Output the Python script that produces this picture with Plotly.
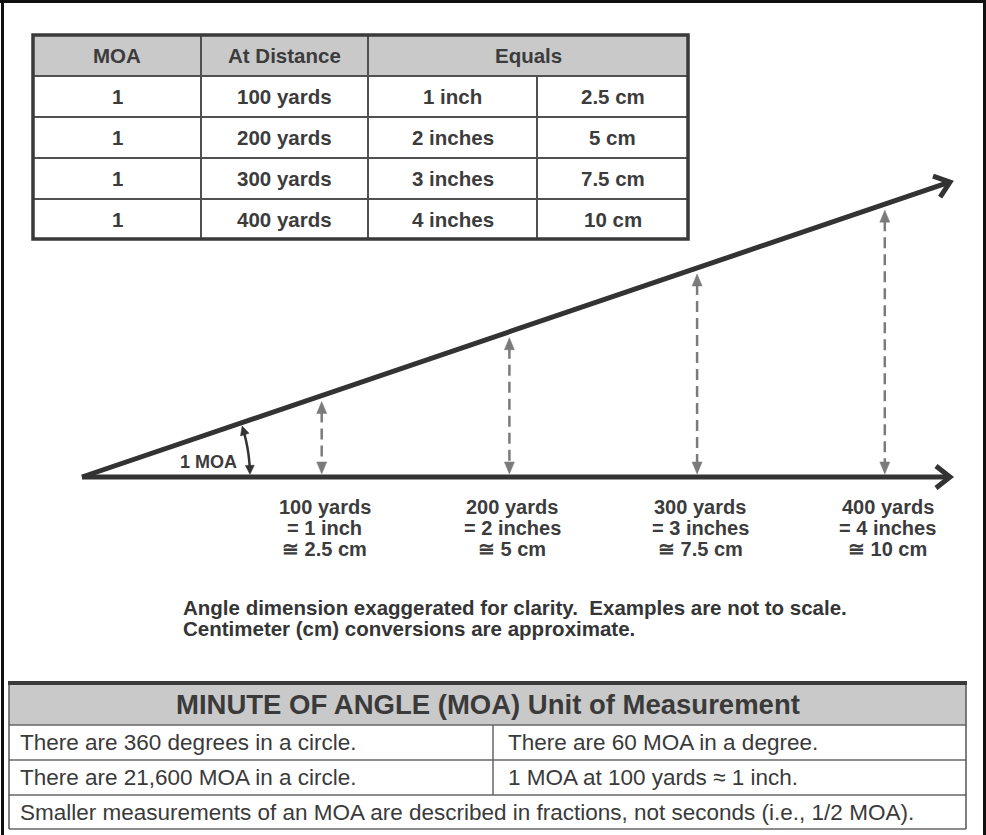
import math
import plotly.graph_objects as go

# ---------------- data ----------------
moa_values = [1, 1, 1, 1]
distance_yards = [100, 200, 300, 400]
equals_inches = [1, 2, 3, 4]
equals_cm = [2.5, 5, 7.5, 10]
table_headers = ["MOA", "At Distance", "Equals"]
angle_label = "1 MOA"
note_lines = [
    "Angle dimension exaggerated for clarity.\u00a0 Examples are not to scale.",
    "Centimeter (cm) conversions are approximate.",
]
facts_title = "MINUTE OF ANGLE (MOA) Unit of Measurement"
facts_rows = [
    ["There are 360 degrees in a circle.", "There are 60 MOA in a degree."],
    ["There are 21,600 MOA in a circle.", "1 MOA at 100 yards \u2248 1 inch."],
]
facts_footer = "Smaller measurements of an MOA are described in fractions, not seconds (i.e., 1/2 MOA)."


def fmt(v):
    return f"{v:g}"


def inch_label(n):
    return f"{n} inch" if n == 1 else f"{n} inches"


# ---------------- layout constants ----------------
W, H = 986, 835
FONT = "Liberation Sans, Arial, Helvetica, sans-serif"
DARK = "#333333"
TXT = "#3c3c3c"
HEAD = "#c9c9c9"
DASHC = "#7b7b7b"

shapes = []
annos = []


def line(x0, y0, x1, y1, color, width, dash=None):
    d = dict(type="line", xref="x", yref="y", x0=x0, y0=y0, x1=x1, y1=y1,
             line=dict(color=color, width=width))
    if dash:
        d["line"]["dash"] = dash
    shapes.append(d)


def rect(x0, y0, x1, y1, fill, color=None, width=0):
    shapes.append(dict(type="rect", xref="x", yref="y", x0=x0, y0=y0, x1=x1, y1=y1,
                       fillcolor=fill, line=dict(color=color or fill, width=width)))


def path(pts, color, width=0, fill=None, close=False):
    s = "M " + " L ".join(f"{x:.2f},{y:.2f}" for x, y in pts)
    if close:
        s += " Z"
    shapes.append(dict(type="path", xref="x", yref="y", path=s,
                       fillcolor=fill if fill else "rgba(0,0,0,0)",
                       line=dict(color=color, width=width)))


def text(x, y, t, size, bold=False, anchor="center", color=TXT):
    annos.append(dict(x=x, y=y, xref="x", yref="y", text=f"<b>{t}</b>" if bold else t,
                      showarrow=False, xanchor=anchor, yanchor="middle",
                      font=dict(family=FONT, size=size, color=color)))


def tri(tip, u, length, hw, color):
    ux, uy = u
    n = math.hypot(ux, uy)
    ux, uy = ux / n, uy / n
    bx, by = tip[0] - ux * length, tip[1] - uy * length
    px, py = -uy, ux
    path([tip, (bx + px * hw, by + py * hw), (bx - px * hw, by - py * hw)],
         color, 0.5, fill=color, close=True)


# ---------------- outer frame ----------------
line(0, 1.5, W, 1.5, "#111111", 3)
line(2.5, 0, 2.5, H, "#111111", 3)
line(984.5, 0, 984.5, H, "#111111", 3)

# ---------------- top table ----------------
TX = [33, 201, 368, 537, 688]
TY = [35, 76, 117, 158, 199, 239]
rect(TX[0], TY[0], TX[-1], TY[1], HEAD)
for y in TY[1:-1]:
    line(TX[0], y, TX[-1], y, "#505050", 2)
line(TX[1], TY[0], TX[1], TY[-1], "#505050", 2)
line(TX[2], TY[0], TX[2], TY[-1], "#505050", 2)
line(TX[3], TY[1], TX[3], TY[-1], "#505050", 2)
shapes.append(dict(type="rect", xref="x", yref="y", x0=TX[0], y0=TY[0], x1=TX[-1], y1=TY[-1],
                   line=dict(color="#3a3a3a", width=3.5), fillcolor="rgba(0,0,0,0)"))
hy = (TY[0] + TY[1]) / 2
TS = 20.5
text((TX[0] + TX[1]) / 2, hy, table_headers[0], TS, True)
text((TX[1] + TX[2]) / 2, hy, table_headers[1], TS, True)
text((TX[2] + TX[4]) / 2, hy, table_headers[2], TS, True)
for r in range(len(distance_yards)):
    cy = (TY[r + 1] + TY[r + 2]) / 2
    cells = [fmt(moa_values[r]), f"{distance_yards[r]} yards",
             inch_label(equals_inches[r]), f"{fmt(equals_cm[r])} cm"]
    for c, t in enumerate(cells):
        text((TX[c] + TX[c + 1]) / 2, cy, t, TS, True)

# ---------------- diagram ----------------
OX, OY = 82, 477
TIPX = 950
ANGLE = math.radians(18.77)  # exaggerated drawing angle
SL = math.tan(ANGLE)


def slant_y(x):
    return OY - SL * (x - OX)


DX0, DSCALE = 134.0, 1.877  # yards -> pixels (not to scale)


def x_of(yd):
    return DX0 + DSCALE * yd


# horizontal baseline + chevron
line(OX, OY, TIPX - 2, OY, DARK, 5)
path([(TIPX - 14, OY - 11), (TIPX, OY), (TIPX - 14, OY + 11)], DARK, 5)
# slanted line + chevron
sx, sy = TIPX, slant_y(TIPX)
line(OX, OY, sx - 2 * math.cos(ANGLE), sy + 2 * math.sin(ANGLE), DARK, 5)
bx, by = -math.cos(ANGLE), math.sin(ANGLE)
arms = []
for a in (math.radians(38), -math.radians(38)):
    rx = bx * math.cos(a) - by * math.sin(a)
    ry = bx * math.sin(a) + by * math.cos(a)
    arms.append((sx + 18 * rx, sy + 18 * ry))
path([arms[0], (sx, sy), arms[1]], DARK, 5)

# dashed double arrows
LS = 20
for i, yd in enumerate(distance_yards):
    x = x_of(yd)
    ytop = slant_y(x) + 6
    ybot = OY - 3
    line(x, ytop + 10, x, ybot - 10, DASHC, 2.5, dash="11px,6px")
    tri((x, ytop), (0, -1), 12, 5, DASHC)
    tri((x, ybot), (0, 1), 12, 5, DASHC)
    lx = x + 3
    text(lx, 507, f"{yd} yards", LS, True)
    text(lx, 528, f"= {inch_label(equals_inches[i])}", LS, True)
    text(lx, 549, f"\u2245 {fmt(equals_cm[i])} cm", LS, True)

# angle arc with arrowheads
R = 168
phi0 = math.radians(0.9)
phi1 = ANGLE - math.radians(1.1)
head = 9
dphi = head / R
pts = []
N = 30
for k in range(N + 1):
    p = (phi0 + dphi * 0.7) + (phi1 - dphi * 0.7 - phi0 - dphi * 0.7) * k / N
    pts.append((OX + R * math.cos(p), OY - R * math.sin(p)))
path(pts, DARK, 2.5)
tip_b = (OX + R * math.cos(phi0), OY - R * math.sin(phi0))
tri(tip_b, (math.sin(phi0), math.cos(phi0)), head, 4.5, DARK)
tip_t = (OX + R * math.cos(phi1), OY - R * math.sin(phi1))
tri(tip_t, (-math.sin(phi1), -math.cos(phi1)), head, 4.5, DARK)
text(208, 462, angle_label, 18, True)

# note text
text(181, 607, note_lines[0], 20.5, True, anchor="left", color="#353535")
text(181, 628, note_lines[1], 20.5, True, anchor="left", color="#353535")

# ---------------- bottom table ----------------
BX = [9, 493, 966]
BY = [683, 725, 760, 795, 829]
rect(BX[0], BY[0], BX[-1], BY[1], HEAD)
for y in BY[1:]:
    line(BX[0], y, BX[-1], y, "#666666", 1.5)
line(BX[0], BY[0], BX[0], BY[-1], "#555555", 1.5)
line(BX[-1], BY[0], BX[-1], BY[-1], "#555555", 1.5)
line(BX[1], BY[1], BX[1], BY[3], "#666666", 1.5)
line(BX[0] - 1, BY[0], BX[-1] + 1, BY[0], "#3a3a3a", 4)
text((BX[0] + BX[-1]) / 2, (BY[0] + BY[1]) / 2, facts_title, 27.5, True, color="#3a3a3a")
RS = 22.5
for r, row in enumerate(facts_rows):
    cy = (BY[r + 1] + BY[r + 2]) / 2
    text(18, cy, row[0], RS, anchor="left", color="#3a3a3a")
    text(506, cy, row[1], RS, anchor="left", color="#3a3a3a")
text(18, (BY[3] + BY[4]) / 2, facts_footer, RS, anchor="left", color="#3a3a3a")

fig = go.Figure()
fig.update_layout(
    width=W, height=H, autosize=False,
    margin=dict(l=0, r=0, t=0, b=0, pad=0),
    paper_bgcolor="white", plot_bgcolor="white",
    xaxis=dict(range=[0, W], visible=False, fixedrange=True),
    yaxis=dict(range=[H, 0], visible=False, fixedrange=True),
    shapes=shapes, annotations=annos, showlegend=False,
)
fig.write_html(
    "out.html",
    config={"displayModeBar": False},
    post_script="document.body.style.margin='0';document.body.style.overflow='hidden';",
)
